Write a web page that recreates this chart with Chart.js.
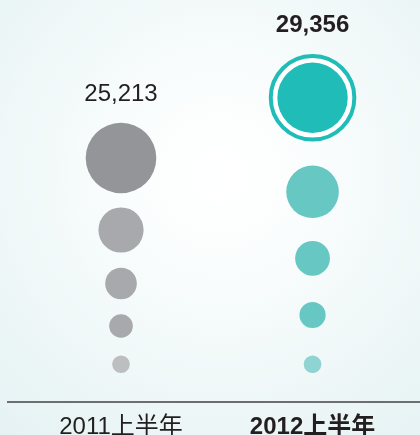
<!DOCTYPE html>
<html>
<head>
<meta charset="utf-8">
<script src="https://cdn.jsdelivr.net/npm/chart.js@4"></script>
<style>
  html, body { margin: 0; padding: 0; background: #ffffff; }
  #wrap { width: 420px; height: 435px; position: relative; }
</style>
</head>
<body>
<div id="wrap"><canvas id="c"></canvas></div>
<script>
// ---- data ----
const categories = ['2011上半年', '2012上半年'];
const totals = [25213, 29356];
// vertical level of each dot (axis units, 0 = baseline) and bubble radius
const dotLevels2011 = [244, 172, 118.5, 76, 37.8];
const dotSizes2011 = [35.3, 22.6, 15.8, 11.8, 8.8];
const dotLevels2012 = [304.2, 210.2, 143.7, 87, 37.8];
const dotSizes2012 = [35.2, 26.3, 17.4, 13.1, 8.8];
const ringLevel2012 = [304.2];
const ringSize2012 = [41.8];

const FONT = "'Liberation Sans', 'Noto Sans CJK SC', sans-serif";

function toPoints(col, levels, sizes) {
  return levels.map((v, i) => ({ x: col, y: v, r: sizes[i] }));
}

const bgPlugin = {
  id: 'bg',
  beforeDraw(chart) {
    const ctx = chart.ctx;
    const w = chart.width, h = chart.height;
    ctx.save();
    const g = ctx.createRadialGradient(220, 175, 0, 220, 175, 340);
    g.addColorStop(0, '#ffffff');
    g.addColorStop(0.2, '#fcfefe');
    g.addColorStop(1, '#e5f2f3');
    ctx.fillStyle = g;
    ctx.fillRect(0, 0, w, h);
    ctx.restore();
  }
};

const valueLabels = {
  id: 'valueLabels',
  afterDatasetsDraw(chart) {
    const ctx = chart.ctx;
    const xs = chart.scales.x;
    categories.forEach((cat, col) => {
      let top = Infinity;
      chart.data.datasets.forEach((ds, d) => {
        const meta = chart.getDatasetMeta(d);
        ds.data.forEach((p, j) => {
          if (p.x !== col) return;
          const el = meta.data[j];
          const t = el.y - (el.options.radius + (el.options.borderWidth || 0) / 2);
          if (t < top) top = t;
        });
      });
      ctx.save();
      ctx.fillStyle = '#231f20';
      ctx.textAlign = 'center';
      ctx.textBaseline = 'alphabetic';
      ctx.font = (col === 1 ? 'bold ' : '') + '24px ' + FONT;
      ctx.fillText(totals[col].toLocaleString('en-US'), xs.getPixelForValue(col), top - 22);
      ctx.restore();
    });
  }
};

new Chart(document.getElementById('c'), {
  type: 'bubble',
  data: {
    datasets: [
      {
        label: categories[0],
        data: toPoints(0, dotLevels2011, dotSizes2011),
        backgroundColor: ['#939598', '#a7a9ac', '#a7a9ac', '#a7a9ac', '#bcbec0'],
        borderWidth: 0,
        order: 1
      },
      {
        label: categories[1],
        data: toPoints(1, dotLevels2012, dotSizes2012),
        backgroundColor: ['#1fbcb8', '#66c7c3', '#66c7c3', '#66c7c3', '#8fd3d2'],
        borderWidth: 0,
        order: 1
      },
      {
        label: 'ring',
        data: toPoints(1, ringLevel2012, ringSize2012),
        backgroundColor: '#ffffff',
        borderColor: '#1fbcb8',
        borderWidth: 4,
        order: 2
      }
    ]
  },
  options: {
    responsive: true,
    maintainAspectRatio: false,
    animation: false,
    events: [],
    layout: { autoPadding: false, padding: { left: 8, right: 0, top: 0, bottom: 0 } },
    plugins: { legend: { display: false }, tooltip: { enabled: false } },
    scales: {
      x: {
        type: 'linear',
        min: -0.59,
        max: 1.561,
        bounds: 'data',
        grid: { display: false },
        border: { display: true, color: '#6d6e71', width: 2 },
        afterBuildTicks: (scale) => { scale.ticks = categories.map((_, i) => ({ value: i })); },
        afterFit: (scale) => { scale.height = 33; scale.paddingLeft = 0; scale.paddingRight = 0; },
        ticks: {
          autoSkip: false,
          maxRotation: 0,
          padding: 3,
          color: '#231f20',
          font: (ctx) => ({ family: FONT, size: 24, weight: ctx.index === 1 ? 'bold' : 'normal' }),
          callback: (v) => categories[v]
        }
      },
      y: {
        type: 'linear',
        display: false,
        min: 0,
        max: 402
      }
    }
  },
  plugins: [bgPlugin, valueLabels]
});
</script>
</body>
</html>
